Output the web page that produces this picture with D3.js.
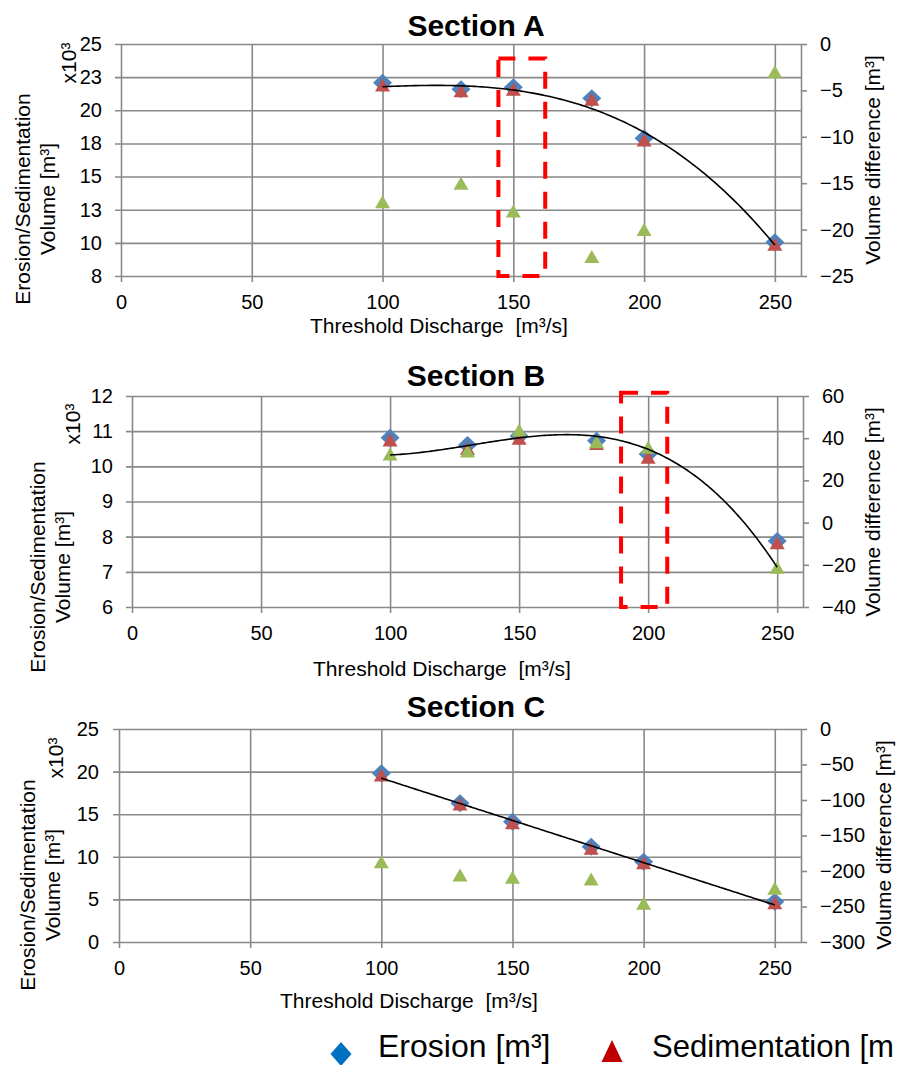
<!DOCTYPE html>
<html>
<head>
<meta charset="utf-8">
<script src="https://cdn.jsdelivr.net/npm/d3@7"></script>
<style>
  body { margin: 0; background: #fff; }
  svg { display: block; }
  svg text { font-family: "Liberation Sans", Arial, sans-serif; white-space: pre; }
</style>
</head>
<body>
<div id="chart"></div>
<script>
// data (volumes in x10^3 m3, difference in m3)
const discharge = [100, 130, 150, 180, 200, 250];
const xTicks = [0, 50, 100, 150, 200, 250];

const erosionA = [22.08, 21.58, 21.73, 20.90, 17.89, 10.04];
const sedimentationA = [21.90, 21.48, 21.58, 20.83, 17.76, 9.90];
const differenceA = [-17.0, -15.0, -18.0, -22.9, -20.0, -3.0];

const erosionB = [10.81, 10.61, 10.86, 10.73, 10.35, 7.88];
const sedimentationB = [10.75, 10.51, 10.80, 10.65, 10.26, 7.83];
const differenceB = [32.5, 33.9, 43.9, 38.3, 35.7, -21.2];

const erosionC = [19.80, 16.28, 14.12, 11.19, 9.43, 4.73];
const sedimentationC = [19.60, 16.20, 14.00, 11.00, 9.31, 4.61];
const differenceC = [-186.9, -205.6, -208.9, -211.3, -245.5, -224.4];

const leftTicksA = [7.5, 10, 12.5, 15, 17.5, 20, 22.5, 25];
const rightTicksA = [-25, -20, -15, -10, -5, 0];
const leftTicksB = [6, 7, 8, 9, 10, 11, 12];
const rightTicksB = [-40, -20, 0, 20, 40, 60];
const leftTicksC = [0, 5, 10, 15, 20, 25];
const rightTicksC = [-300, -250, -200, -150, -100, -50, 0];

// highlighted discharge windows [x0, x1, yTop, yBottom] (left axis units)
const highlightA = [144.3, 162.2, 23.9, 7.5];
const highlightB = [189.5, 207.4, 12.09, 6];

const width = 898, height = 1065;
const gridColor = "#898989";
const blue = "#4F81BD", red = "#C0504D", green = "#9BBB59";
const font = '"Liberation Sans", Arial, sans-serif';

const svg = d3.select("#chart").append("svg")
  .attr("width", width)
  .attr("height", height);

// least squares polynomial trend line (like Excel's trendline)
function polyFit(xs, ys, order) {
  const n = order + 1;
  const xm = 175, xsc = 50;
  const A = Array.from({ length: n }, () => new Array(n + 1).fill(0));
  xs.forEach((xv, k) => {
    const t = (xv - xm) / xsc;
    for (let i = 0; i < n; i++) {
      for (let j = 0; j < n; j++) A[i][j] += Math.pow(t, i + j);
      A[i][n] += Math.pow(t, i) * ys[k];
    }
  });
  for (let i = 0; i < n; i++) {
    let p = i;
    for (let r = i + 1; r < n; r++) if (Math.abs(A[r][i]) > Math.abs(A[p][i])) p = r;
    [A[i], A[p]] = [A[p], A[i]];
    for (let r = 0; r < n; r++) {
      if (r === i) continue;
      const f = A[r][i] / A[i][i];
      for (let c = i; c <= n; c++) A[r][c] -= f * A[i][c];
    }
  }
  const coef = A.map((row, i) => row[n] / row[i]);
  return xv => {
    const t = (xv - xm) / xsc;
    return coef.reduce((s, c, i) => s + c * Math.pow(t, i), 0);
  };
}

const diamond = "M0,-9L9.5,0L0,9L-9.5,0Z";
const triangle = "M0,-6.5L7.5,6.5L-7.5,6.5Z";

function styleTicks(a) {
  a.attr("font-family", font).attr("font-size", 20);
  a.selectAll(".tick text").attr("fill", "#000");
}

function drawSection(s) {
  const x = d3.scaleLinear().domain([0, 260]).range([s.left, s.right]);
  const yL = d3.scaleLinear().domain(d3.extent(s.leftTicks)).range([s.bottom, s.top]);
  const yR = d3.scaleLinear().domain(d3.extent(s.rightTicks)).range([s.bottom, s.top]);
  const g = svg.append("g");

  // title
  g.append("text")
    .attr("x", 476).attr("y", s.titleY)
    .attr("text-anchor", "middle")
    .attr("font-size", 30).attr("font-weight", "bold")
    .text(s.title);

  // left axis + horizontal grid
  g.append("g")
    .attr("transform", `translate(${s.left},0)`)
    .call(d3.axisLeft(yL).tickValues(s.leftTicks)
      .tickSizeInner(-(s.right - s.left)).tickSizeOuter(0).tickPadding(s.leftPad)
      .tickFormat(d => Math.round(d)))
    .call(a => a.select(".domain").remove())
    .call(a => a.selectAll(".tick line").attr("x1", -6)
      .attr("stroke", gridColor).attr("stroke-width", 1.6))
    .call(styleTicks);

  // bottom axis + vertical grid
  g.append("g")
    .attr("transform", `translate(0,${s.bottom})`)
    .call(d3.axisBottom(x).tickValues(xTicks)
      .tickSizeInner(-(s.bottom - s.top)).tickSizeOuter(0).tickPadding(19))
    .call(a => a.select(".domain").remove())
    .call(a => a.selectAll(".tick line").attr("y1", 6)
      .attr("stroke", gridColor).attr("stroke-width", 1.6))
    .call(styleTicks);

  // right axis
  g.append("g")
    .attr("transform", `translate(${s.right},0)`)
    .call(d3.axisRight(yR).tickValues(s.rightTicks)
      .tickSizeInner(6).tickSizeOuter(0).tickPadding(13))
    .call(a => a.select(".domain").attr("stroke", gridColor).attr("stroke-width", 1.6))
    .call(a => a.selectAll(".tick line").attr("stroke", gridColor).attr("stroke-width", 1.6))
    .call(styleTicks);

  // axis titles
  g.append("text")
    .attr("transform", `translate(${s.x10X},${s.x10Y}) rotate(-90)`)
    .attr("text-anchor", "middle").attr("dominant-baseline", "central")
    .attr("font-size", 21).text("x10³");
  g.append("text")
    .attr("transform", `translate(${s.titleLX},${s.titleLY}) rotate(-90)`)
    .attr("text-anchor", "middle").attr("dominant-baseline", "central")
    .attr("font-size", 21).text("Erosion/Sedimentation");
  g.append("text")
    .attr("transform", `translate(${s.titleLX + 25},${s.titleLY}) rotate(-90)`)
    .attr("text-anchor", "middle").attr("dominant-baseline", "central")
    .attr("font-size", 21).text("Volume [m³]");
  g.append("text")
    .attr("transform", `translate(${s.titleRX},${s.titleRY}) rotate(-90)`)
    .attr("text-anchor", "middle").attr("dominant-baseline", "central")
    .attr("font-size", 21).text("Volume difference [m³]");
  g.append("text")
    .attr("x", s.xTitleX).attr("y", s.xTitleY)
    .attr("text-anchor", "middle").attr("dominant-baseline", "central")
    .attr("font-size", 21).text("Threshold Discharge  [m³/s]");

  // markers
  g.append("g").selectAll("path")
    .data(discharge.map((d, i) => [d, s.erosion[i]]))
    .join("path")
    .attr("d", diamond).attr("fill", blue)
    .attr("transform", d => `translate(${x(d[0])},${yL(d[1])})`);
  g.append("g").selectAll("path")
    .data(discharge.map((d, i) => [d, s.sedimentation[i]]))
    .join("path")
    .attr("d", triangle).attr("fill", red)
    .attr("transform", d => `translate(${x(d[0])},${yL(d[1])})`);
  g.append("g").selectAll("path")
    .data(discharge.map((d, i) => [d, s.difference[i]]))
    .join("path")
    .attr("d", triangle).attr("fill", green)
    .attr("transform", d => `translate(${x(d[0])},${yR(d[1])})`);

  // trend line
  const ys = s.trendOn === "right" ? s.difference : s.sedimentation;
  const yScale = s.trendOn === "right" ? yR : yL;
  const fit = polyFit(discharge, ys, s.order);
  const pts = d3.range(100, 250.01, 1).map(v => [x(v), yScale(fit(v))]);
  g.append("path")
    .attr("d", d3.line()(pts))
    .attr("fill", "none").attr("stroke", "#000").attr("stroke-width", 1.6);

  // red dashed highlight
  if (s.highlight) {
    const [h0, h1, hTop, hBot] = s.highlight;
    g.append("rect")
      .attr("x", x(h0)).attr("y", yL(hTop))
      .attr("width", x(h1) - x(h0)).attr("height", yL(hBot) - yL(hTop))
      .attr("fill", "none").attr("stroke", "#FF0000")
      .attr("stroke-width", 4).attr("stroke-dasharray", "17,13");
  }
}

drawSection({
  title: "Section A", titleY: 36,
  left: 121, right: 801, top: 44, bottom: 276, leftPad: 19,
  leftTicks: leftTicksA, rightTicks: rightTicksA,
  erosion: erosionA, sedimentation: sedimentationA, difference: differenceA,
  trendOn: "left", order: 3, highlight: highlightA,
  x10X: 68, x10Y: 63, titleLX: 22, titleLY: 199, titleRX: 872, titleRY: 160,
  xTitleX: 439, xTitleY: 325
});

drawSection({
  title: "Section B", titleY: 386,
  left: 132, right: 803, top: 396, bottom: 607, leftPad: 19,
  leftTicks: leftTicksB, rightTicks: rightTicksB,
  erosion: erosionB, sedimentation: sedimentationB, difference: differenceB,
  trendOn: "right", order: 3, highlight: highlightB,
  x10X: 72, x10Y: 424, titleLX: 37, titleLY: 567, titleRX: 872, titleRY: 512,
  xTitleX: 442, xTitleY: 668
});

drawSection({
  title: "Section C", titleY: 717,
  left: 119, right: 801, top: 729, bottom: 942, leftPad: 20,
  leftTicks: leftTicksC, rightTicks: rightTicksC,
  erosion: erosionC, sedimentation: sedimentationC, difference: differenceC,
  trendOn: "left", order: 1, highlight: null,
  x10X: 55, x10Y: 758, titleLX: 27, titleLY: 885, titleRX: 883, titleRY: 845,
  xTitleX: 409, xTitleY: 1000
});

// legend (the reference shows the second entry cut at the page edge)
const legend = svg.append("g");
legend.append("path")
  .attr("d", "M0,-12L10.5,0L0,12L-10.5,0Z")
  .attr("transform", "translate(341,1054)")
  .attr("fill", "#0070C0");
legend.append("text")
  .attr("x", 378).attr("y", 1057)
  .attr("font-size", 32).text("Erosion [m³]");
legend.append("path")
  .attr("d", "M0,-11L10.5,11L-10.5,11Z")
  .attr("transform", "translate(612,1051)")
  .attr("fill", "#C00000");
legend.append("text")
  .attr("x", 652).attr("y", 1057)
  .attr("font-size", 32)
  .attr("textLength", 242).attr("lengthAdjust", "spacingAndGlyphs")
  .text("Sedimentation [m");
</script>
</body>
</html>
